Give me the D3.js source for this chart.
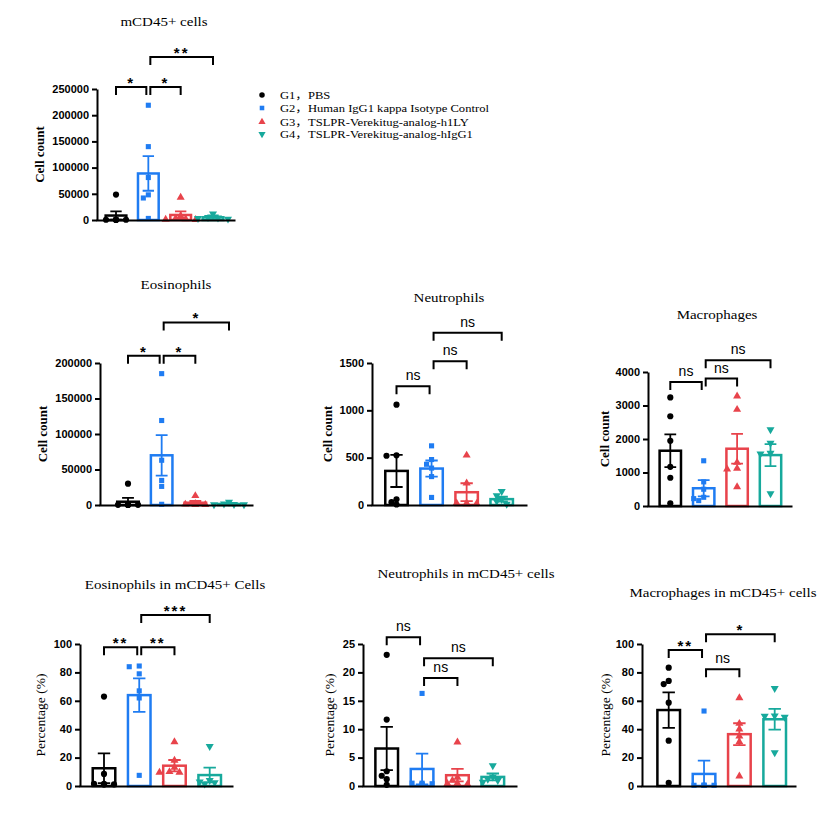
<!DOCTYPE html>
<html>
<head>
<meta charset="utf-8">
<script src="https://cdn.jsdelivr.net/npm/d3@7"></script>
<style>
  body { margin: 0; background: #fff; }
  svg { display: block; }
</style>
</head>
<body>
<svg id="chart" width="834" height="814"></svg>
<script>
// horizontal stretch of the original figure's lettering
const SX = 1.2;
const TSX = 1.1;

const groups = ["G1，PBS", "G2，Human IgG1 kappa Isotype Control",
  "G3，TSLPR-Verekitug-analog-h1LY", "G4，TSLPR-Verekitug-analog-hIgG1"];
const colors = ["#000000", "#1f7cf2", "#e8434b", "#17a99c"];

// mCD45+ cells
const cd45Ticks = [0, 50000, 100000, 150000, 200000, 250000];
const cd45Means = [8500, 88800, 9600, 5200];
const cd45Sem = [8000, 33000, 6800, 3800];
const cd45Points = [
  [48500, 1000, 500, 500, 300, 200],
  [219000, 140000, 81000, 48000, 42000, 3000],
  [43000, 8000, 3000, 2000, 1000, 500],
  [12000, 5000, 4000, 3000, 2000]
];
const cd45Comps = [[0, 1, "*", 253800], [1, 2, "*", 253800], [1, 3, "**", 311000]];

// Eosinophils
const eosTicks = [0, 50000, 100000, 150000, 200000];
const eosMeans = [4600, 70000, 3200, 1500];
const eosSem = [5500, 28500, 2400, 700];
const eosPoints = [
  [30000, 500, 300, 200, 200, 100],
  [185000, 119000, 63000, 34600, 26200, 1000],
  [13000, 2000, 1000, 500, 500],
  [4000, 1500, 1000, 500, 500]
];
const eosComps = [[0, 1, "*", 210300], [1, 2, "*", 210300], [1, 3, "*", 257200]];

// Neutrophils
const neuTicks = [0, 500, 1000, 1500];
const neuMeans = [360, 385, 135, 62];
const neuSem = [170, 85, 95, 25];
const neuPoints = [
  [1060, 525, 520, 60, 30, 5],
  [625, 480, 430, 390, 300, 80],
  [525, 230, 20, 20, 15, 10],
  [145, 100, 60, 40, 10]
];
const neuComps = [[0, 1, "ns", 1255], [1, 2, "ns", 1518], [1, 3, "ns", 1820]];

// Macrophages
const macTicks = [0, 1000, 2000, 3000, 4000];
const macMeans = [1650, 530, 1710, 1520];
const macSem = [490, 245, 445, 330];
const macPoints = [
  [3240, 2680, 1945, 1170, 843, 80],
  [1350, 720, 500, 260, 220, 160],
  [3280, 2880, 1300, 1120, 1100, 570],
  [2280, 1880, 1580, 1560, 370]
];
const macComps = [[0, 1, "ns", 3702], [1, 2, "ns", 3803], [1, 3, "ns", 4348]];

// Eosinophils in mCD45+ Cells
const eosPctTicks = [0, 20, 40, 60, 80, 100];
const eosPctMeans = [12.5, 64, 14.3, 7.7];
const eosPctSem = [10.5, 11.8, 4, 5.2];
const eosPctPoints = [
  [63, 8.5, 1.5, 1.5, 1.2, 1.0],
  [84.5, 84, 79, 67, 62, 7.5],
  [31, 18, 13, 10, 9.5, 9.5],
  [28, 4, 3, 2.5, 1.5]
];
const eosPctComps = [[0, 1, "**", 97.7], [1, 2, "**", 97.7], [1, 3, "***", 120.4]];

// Neutrophils in mCD45+ cells
const neuPctTicks = [0, 5, 10, 15, 20, 25];
const neuPctMeans = [6.6, 3.0, 1.9, 1.6];
const neuPctSem = [3.8, 2.7, 1.1, 0.6];
const neuPctPoints = [
  [23.1, 11.7, 2.6, 1.8, 1.2, 0.2],
  [16.3, 0.5, 0.5, 0.4, 0.3, 0.3],
  [7.7, 1.5, 1.0, 0.5, 0.4, 0.3],
  [3.6, 1.6, 1.2, 1.0, 0.7]
];
const neuPctComps = [[0, 1, "ns", 26.2], [1, 3, "ns", 22.5], [1, 2, "ns", 19.0]];

// Macrophages in mCD45+ cells
const macPctTicks = [0, 20, 40, 60, 80, 100];
const macPctMeans = [53.5, 8.5, 36.5, 47];
const macPctSem = [12.5, 9.3, 7.7, 7.3];
const macPctPoints = [
  [83.3, 74, 71.8, 58.7, 31.9, 2.3],
  [52.8, 0.5, 0.5, 0.5, 0.5, 0.5],
  [62, 44, 40, 35, 31, 7],
  [68.8, 49.5, 49.3, 48.5, 23.5]
];
const macPctComps = [[0, 1, "**", 95.8], [1, 2, "ns", 82.2], [1, 3, "*", 106.8]];

const panels = [
  { title: "mCD45+ cells", yLabel: "Cell count", ticks: cd45Ticks, means: cd45Means, sem: cd45Sem, points: cd45Points, comps: cd45Comps,
    axisX: 97, xEnd: 235, first: 116, last: 213, yBottom: 220, yTop: 89, titleX: 164, titleY: 26, labelX: 40 },
  { title: "Eosinophils", yLabel: "Cell count", ticks: eosTicks, means: eosMeans, sem: eosSem, points: eosPoints, comps: eosComps,
    axisX: 100, xEnd: 253, first: 128, last: 229, yBottom: 505, yTop: 363, titleX: 176, titleY: 289, labelX: 43 },
  { title: "Neutrophils", yLabel: "Cell count", ticks: neuTicks, means: neuMeans, sem: neuSem, points: neuPoints, comps: neuComps,
    axisX: 372, xEnd: 527, first: 396.5, last: 501.7, yBottom: 505, yTop: 363, titleX: 449, titleY: 302, labelX: 328 },
  { title: "Macrophages", yLabel: "Cell count", ticks: macTicks, means: macMeans, sem: macSem, points: macPoints, comps: macComps,
    axisX: 648, xEnd: 792, first: 670.3, last: 770.5, yBottom: 506, yTop: 372, titleX: 717, titleY: 319, labelX: 605 },
  { title: "Eosinophils in mCD45+ Cells", yLabel: "Percentage (%)", ticks: eosPctTicks, means: eosPctMeans, sem: eosPctSem, points: eosPctPoints, comps: eosPctComps,
    axisX: 80, xEnd: 233, first: 104, last: 209.7, yBottom: 786, yTop: 644, titleX: 175, titleY: 589, labelX: 41 },
  { title: "Neutrophils in mCD45+ cells", yLabel: "Percentage (%)", ticks: neuPctTicks, means: neuPctMeans, sem: neuPctSem, points: neuPctPoints, comps: neuPctComps,
    axisX: 363, xEnd: 517, first: 386.7, last: 492.8, yBottom: 786, yTop: 644, titleX: 466, titleY: 578, labelX: 330 },
  { title: "Macrophages in mCD45+ cells", yLabel: "Percentage (%)", ticks: macPctTicks, means: macPctMeans, sem: macPctSem, points: macPctPoints, comps: macPctComps,
    axisX: 642, xEnd: 796, first: 668.7, last: 774.7, yBottom: 786, yTop: 644, titleX: 723, titleY: 597, labelX: 606 }
];

const svg = d3.select("#chart");
const serif = "'Liberation Serif', 'Times New Roman', 'Noto Sans CJK SC', serif";
const sans = "'Liberation Sans', Arial, sans-serif";

const symbolTypes = [d3.symbolCircle, d3.symbolSquare, d3.symbolTriangle, d3.symbolTriangle];
const symbolSizes = [30, 26, 28, 28];
function marker(g, i, x, y, scale = 1) {
  g.append("path")
    .attr("d", d3.symbol().type(symbolTypes[i]).size(symbolSizes[i] * scale)())
    .attr("transform", `translate(${x},${y})` + (i === 3 ? " rotate(180)" : ""))
    .attr("fill", colors[i]);
}

function stretchedText(g, x, y, str) {
  return g.append("g")
    .attr("transform", `translate(${x},${y}) scale(${SX},1)`)
    .append("text")
    .text(str);
}

panels.forEach(p => {
  const g = svg.append("g");
  const y = d3.scaleLinear().domain([0, d3.max(p.ticks)]).range([p.yBottom, p.yTop]);
  const x = d3.scalePoint().domain([0, 1, 2, 3]).range([p.first, p.last]);
  const bw = x.step() * 0.64;
  const cap = bw * 0.55;
  const isPct = p.yLabel.startsWith("Percentage");

  // title
  stretchedText(g, p.titleX, p.titleY, p.title)
    .attr("text-anchor", "middle")
    .style("font-family", serif)
    .style("font-size", "12.5px");

  // y label
  g.append("text")
    .attr("transform", `translate(${p.labelX + 4},${(p.yBottom + p.yTop) / 2}) rotate(-90)`)
    .attr("text-anchor", "middle")
    .style("font-family", serif)
    .style("font-weight", isPct ? "normal" : "bold")
    .style("font-size", isPct ? "13.5px" : "13px")
    .text(p.yLabel);

  // bars
  g.selectAll(".bar")
    .data(p.means)
    .enter().append("rect")
    .attr("class", "bar")
    .attr("x", (d, i) => x(i) - bw / 2)
    .attr("y", d => y(d))
    .attr("width", bw)
    .attr("height", d => y(0) - y(d))
    .attr("fill", "#fff")
    .attr("stroke", (d, i) => colors[i])
    .attr("stroke-width", 2.5);

  // individual points, nudged sideways when they overlap
  p.points.forEach((vals, i) => {
    const placed = [];
    const offs = [0, -5, 5, -10, 10, -15, 15];
    vals.slice().sort((a, b) => b - a).forEach(v => {
      const py = y(v);
      let ox = 0;
      for (const o of offs) {
        if (placed.every(q => Math.hypot(q[0] - o, q[1] - py) >= 5.2)) { ox = o; break; }
      }
      placed.push([ox, py]);
      marker(g, i, x(i) + ox, py);
    });
  });

  // error bars (mean ± SEM)
  p.means.forEach((m, i) => {
    const cx = x(i);
    const lo = y(Math.max(0, m - p.sem[i])), hi = y(m + p.sem[i]);
    g.append("path")
      .attr("d", `M${cx},${lo}V${hi}M${cx - cap / 2},${hi}H${cx + cap / 2}M${cx - cap / 2},${lo}H${cx + cap / 2}`)
      .attr("stroke", colors[i])
      .attr("stroke-width", 1.8)
      .attr("fill", "none");
  });

  // axes
  const yAxis = g.append("g")
    .attr("transform", `translate(${p.axisX},0)`)
    .call(d3.axisLeft(y).tickValues(p.ticks).tickSize(5).tickSizeOuter(0).tickFormat(d3.format("d")));
  yAxis.selectAll("path, line").attr("stroke", "#000").attr("stroke-width", 2);
  yAxis.selectAll("text")
    .attr("x", -8 / TSX)
    .attr("transform", `scale(${TSX},1)`)
    .attr("fill", "#000")
    .style("font-family", sans)
    .style("font-weight", "bold")
    .style("font-size", "10px");

  const xLine = d3.scaleLinear().range([p.axisX - 1, p.xEnd]);
  const xAxis = g.append("g")
    .attr("transform", `translate(0,${p.yBottom})`)
    .call(d3.axisBottom(xLine).tickValues([]).tickSizeOuter(0));
  xAxis.select(".domain").attr("stroke", "#000").attr("stroke-width", 2);

  // significance brackets
  p.comps.forEach(([a, b, label, v]) => {
    const x1 = x(a) + (a === 1 ? 2 : 0);
    const x2 = x(b) - (b === 1 ? 2 : 0);
    const by = y(v);
    g.append("path")
      .attr("d", `M${x1},${by + 8}V${by}H${x2}V${by + 8}`)
      .attr("stroke", "#000")
      .attr("stroke-width", 2)
      .attr("fill", "none");
    const isNs = label === "ns";
    g.append("text")
      .attr("x", (x1 + x2) / 2)
      .attr("y", isNs ? by - 6 : by + 1)
      .attr("text-anchor", "middle")
      .style("font-family", sans)
      .style("font-weight", isNs ? "normal" : "bold")
      .style("font-size", isNs ? "14px" : "15px")
      .style("letter-spacing", isNs ? "0px" : "2px")
      .text(label);
  });
});

// legend
const legendRows = [95, 108, 122, 134];
const legend = svg.append("g");
groups.forEach((name, i) => {
  marker(legend, i, 262, legendRows[i], 0.8);
  stretchedText(legend, 280, legendRows[i] + 4, name)
    .style("font-family", serif)
    .style("font-size", "10.5px");
});
</script>
</body>
</html>
